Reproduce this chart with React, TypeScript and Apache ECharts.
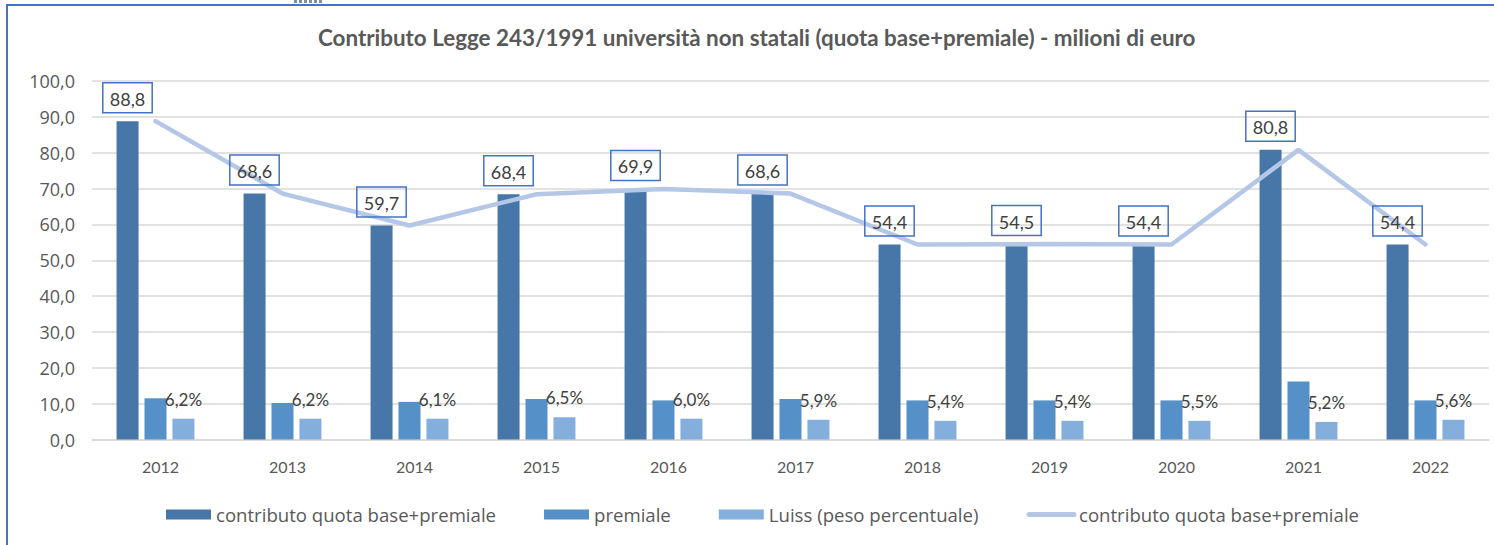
import React, { useEffect, useRef } from "react";
import * as echarts from "echarts";

const years = ["2012", "2013", "2014", "2015", "2016", "2017", "2018", "2019", "2020", "2021", "2022"];
const contributo = [88.8, 68.6, 59.7, 68.4, 69.9, 68.6, 54.4, 54.5, 54.4, 80.8, 54.4];
const premiale = [11.5, 10.2, 10.5, 11.3, 10.9, 11.3, 10.9, 10.9, 10.9, 16.2, 10.9];
const luiss = [5.8, 5.8, 5.8, 6.2, 5.8, 5.5, 5.2, 5.2, 5.2, 4.9, 5.5];
const luissPct = ["6,2%", "6,2%", "6,1%", "6,5%", "6,0%", "5,9%", "5,4%", "5,4%", "5,5%", "5,2%", "5,6%"];
const seriesNames = [
  "contributo quota base+premiale",
  "premiale",
  "Luiss (peso percentuale)",
  "contributo quota base+premiale ",
];
const titleText = "Contributo Legge 243/1991 università non statali (quota base+premiale) - milioni di euro";

const FONT = "Lato, 'Open Sans', sans-serif";
const WIDE = "'Open Sans', Lato, sans-serif";
const fmt = (v: number) => v.toFixed(1).replace(".", ",");

export default function App() {
  const ref = useRef<HTMLDivElement>(null);
  useEffect(() => {
    document.body.style.margin = "0";
    const chart = echarts.init(ref.current!, null, { renderer: "svg" });
    const iconBars = [0, 1, 2, 3, 4, 5].map((i) => ({
      type: "rect",
      shape: { x: 294 + i * 5, y: 0, width: 3, height: 3 },
      style: { fill: "#7f8ea6" },
      silent: true,
    }));
    chart.setOption({
      animation: false,
      backgroundColor: "#ffffff",
      textStyle: { fontFamily: FONT },
      title: {
        text: titleText,
        left: 318,
        top: 26,
        padding: 0,
        textStyle: { fontFamily: FONT, fontSize: 22.4, fontWeight: "bold", color: "#595959" },
      },
      graphic: [
        {
          type: "rect",
          shape: { x: 7, y: 5, width: 1600, height: 700 },
          style: { fill: "none", stroke: "#4472c4", lineWidth: 2 },
          silent: true,
        },
        ...iconBars,
      ],
      legend: {
        left: 166,
        top: 505,
        padding: 0,
        itemWidth: 45,
        itemHeight: 10,
        itemGap: 48,
        textStyle: { fontFamily: WIDE, fontSize: 18.6, color: "#595959" },
        data: [
          { name: seriesNames[0], icon: "rect" },
          { name: seriesNames[1], icon: "rect" },
          { name: seriesNames[2], icon: "rect" },
          { name: seriesNames[3], lineStyle: { width: 5, cap: "round", color: "#b4c7e7" } },
        ],
      },
      grid: { left: 92, right: 5, top: 81, bottom: 105.5, containLabel: false },
      xAxis: {
        type: "category",
        data: years,
        axisLine: { lineStyle: { color: "#d9d9d9", width: 1.5 } },
        axisTick: { show: false },
        axisLabel: { color: "#595959", fontSize: 16, fontFamily: FONT, margin: 19, padding: [0, 0, 0, 10] },
      },
      yAxis: {
        type: "value",
        min: 0,
        max: 100,
        interval: 10,
        axisLine: { show: false },
        axisTick: { show: false },
        splitLine: { lineStyle: { color: "#d9d9d9", width: 1.5 } },
        axisLabel: { color: "#595959", fontSize: 18, fontFamily: WIDE, margin: 17, formatter: (v: number) => fmt(v) },
      },
      series: [
        {
          name: seriesNames[0],
          type: "bar",
          data: contributo,
          barWidth: 22,
          barGap: "27%",
          itemStyle: { color: "#4677a8" },
        },
        {
          name: seriesNames[1],
          type: "bar",
          data: premiale,
          barWidth: 22,
          barGap: "27%",
          itemStyle: { color: "#5590c8" },
        },
        {
          name: seriesNames[2],
          type: "bar",
          data: luiss,
          barWidth: 22,
          barGap: "27%",
          itemStyle: { color: "#84aedc" },
          label: {
            show: true,
            position: "top",
            distance: 11,
            fontFamily: FONT,
            fontSize: 17,
            color: "#404040",
            formatter: (p: any) => luissPct[p.dataIndex],
          },
        },
        {
          name: seriesNames[3],
          type: "line",
          data: contributo,
          symbol: "circle",
          symbolSize: 1,
          showSymbol: true,
          itemStyle: { color: "rgba(0,0,0,0)" },
          lineStyle: { color: "#b4c7e7", width: 4.5, cap: "round" },
          z: 3,
          label: {
            show: true,
            position: "top",
            offset: [-28, -3],
            fontFamily: FONT,
            fontSize: 18,
            color: "#404040",
            borderColor: "#4472c4",
            borderWidth: 1.5,
            padding: [7, 7, 5, 7],
            formatter: (p: any) => fmt(p.value),
          },
        },
      ],
    });
    return () => chart.dispose();
  }, []);
  return <div ref={ref} style={{ width: 1494, height: 545 }} />;
}
